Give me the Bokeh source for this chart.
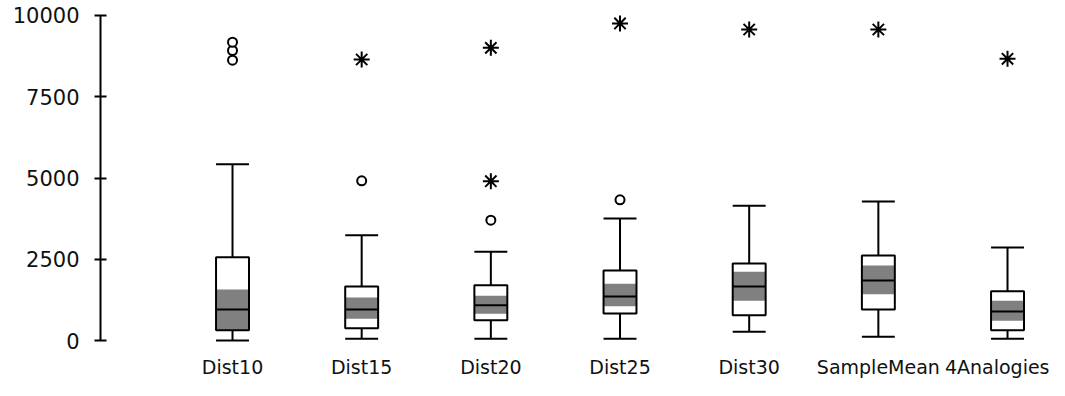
from bokeh.plotting import figure
from bokeh.models import Range1d, FixedTicker, ColumnDataSource
from bokeh.embed import file_html
from bokeh.resources import INLINE

categories = ["Dist10", "Dist15", "Dist20", "Dist25", "Dist30", "SampleMean", "4Analogies"]
lower_whisker = [0, 51, 51, 51, 267, 114, 51]
q1 = [317, 380, 626, 831, 779, 954, 317]
ci_low = [317, 667, 821, 1056, 1221, 1425, 605]
median = [954, 954, 1087, 1354, 1662, 1846, 892]
ci_high = [1569, 1323, 1374, 1744, 2113, 2308, 1221]
q3 = [2563, 1662, 1703, 2154, 2369, 2615, 1518]
upper_whisker = [5425, 3240, 2728, 3754, 4144, 4277, 2862]
outliers = {
    "Dist10": [8625, 8923, 9180],
    "Dist15": [4913],
    "Dist20": [3703],
    "Dist25": [4328],
    "Dist30": [],
    "SampleMean": [],
    "4Analogies": [],
}
extremes = {
    "Dist10": [],
    "Dist15": [8646],
    "Dist20": [4902, 9005],
    "Dist25": [9754],
    "Dist30": [9569],
    "SampleMean": [9569],
    "4Analogies": [8668],
}
y_ticks = [0, 2500, 5000, 7500, 10000]

FONT = "DejaVu Sans"
BOXW = 0.255

xs = list(range(len(categories)))
src = ColumnDataSource(dict(
    x=xs, lw=lower_whisker, q1=q1, cl=ci_low, med=median, ch=ci_high, q3=q3, uw=upper_whisker,
    x0=[x - BOXW / 2 for x in xs], x1=[x + BOXW / 2 for x in xs],
))

p = figure(width=1049, height=380, output_backend="svg", toolbar_location=None,
           x_range=Range1d(-1.022, 6.325), y_range=Range1d(-92, 10369),
           min_border_left=100, min_border_right=0, min_border_top=3, min_border_bottom=37)
p.outline_line_color = None
p.grid.visible = False
p.background_fill_color = "white"

# whiskers
p.segment(x0="x", y0="q3", x1="x", y1="uw", source=src, line_color="black", line_width=2)
p.segment(x0="x", y0="lw", x1="x", y1="q1", source=src, line_color="black", line_width=2)
p.segment(x0="x0", y0="uw", x1="x1", y1="uw", source=src, line_color="black", line_width=2)
p.segment(x0="x0", y0="lw", x1="x1", y1="lw", source=src, line_color="black", line_width=2)
# box
p.vbar(x="x", width=BOXW, bottom="q1", top="q3", source=src, fill_color="white", line_color=None)
p.vbar(x="x", width=BOXW, bottom="cl", top="ch", source=src, fill_color="#808080", line_color=None)
p.segment(x0="x0", y0="med", x1="x1", y1="med", source=src, line_color="black", line_width=2)
p.vbar(x="x", width=BOXW, bottom="q1", top="q3", source=src, fill_alpha=0, line_color="black", line_width=2)

ox, oy, ex, ey = [], [], [], []
for i, c in enumerate(categories):
    for v in outliers[c]:
        ox.append(i); oy.append(v)
    for v in extremes[c]:
        ex.append(i); ey.append(v)
p.scatter(ox, oy, marker="circle", size=9, fill_color="white", line_color="black", line_width=2)
p.scatter(ex, ey, marker="asterisk", size=16, line_color="black", line_width=2)

ya = p.yaxis[0]
ya.ticker = FixedTicker(ticks=y_ticks)
ya.bounds = (0, 10000)
ya.axis_line_width = 2
ya.axis_line_color = "black"
ya.major_tick_line_width = 2
ya.major_tick_line_color = "black"
ya.major_tick_out = 6
ya.major_tick_in = 6
ya.minor_tick_line_color = None
ya.major_label_standoff = 15
ya.major_label_text_font = FONT
ya.major_label_text_font_size = "21px"
ya.major_label_text_color = "#111111"

xa = p.xaxis[0]
xa.ticker = FixedTicker(ticks=xs)
xa.major_label_overrides = {i: c for i, c in enumerate(categories)}
xa.axis_line_color = None
xa.major_tick_line_color = None
xa.minor_tick_line_color = None
xa.major_tick_out = 0
xa.major_tick_in = 0
xa.major_label_standoff = 12
xa.major_label_text_font = FONT
xa.major_label_text_font_size = "19px"
xa.major_label_text_color = "#111111"

open("out.html", "w").write(file_html(p, INLINE))
